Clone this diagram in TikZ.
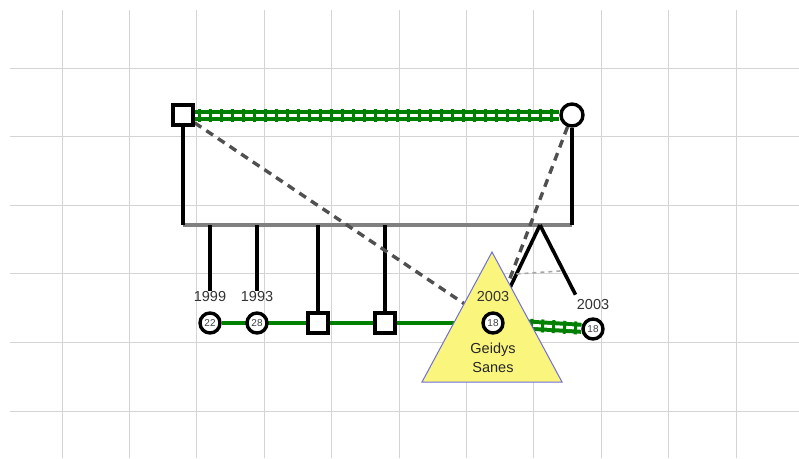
\documentclass[tikz,border=0pt]{standalone}
\usepackage{fontspec}
\setmainfont{Liberation Sans}
\usetikzlibrary{calc,backgrounds,decorations.markings}
\definecolor{pedgreen}{RGB}{0,128,0}
\definecolor{gridgray}{RGB}{212,212,212}
\definecolor{dashgray}{RGB}{80,80,80}
\definecolor{triyellow}{RGB}{250,245,125}
\definecolor{triblue}{RGB}{110,110,220}

\begin{document}
\begin{tikzpicture}[x=1pt,y=-1pt,
  male/.style={draw,line width=3.4pt,fill=white,minimum size=20pt,inner sep=0pt},
  female/.style={circle,draw,line width=3.4pt,fill=white,minimum size=20pt,inner sep=0pt,font=\fontsize{10}{10}\selectfont,text=black!75},
  year/.style={font=\fontsize{14.5}{14.5}\selectfont,text=black!80,inner sep=1pt},
  gridline/.style={gridgray,line width=1pt},
  line/.style={line width=3.6pt},
  sib/.style={gray,line width=4pt},
  rel/.style={pedgreen,line width=3.6pt},
  hatch/.style={pedgreen,line width=4pt,double=white,double distance=3pt},
  ticks/.style={decorate,decoration={markings,mark=between positions 5pt and -5pt step 11pt with {\draw[pedgreen,line width=3pt] (0,-6.5pt) -- (0,6.5pt);}}},
  link/.style={dashgray,line width=3.4pt,dash pattern=on 8pt off 6pt},
  twinbar/.style={black!35,line width=1.6pt,dash pattern=on 4pt off 4pt}]
\useasboundingbox (0,0) rectangle (799,458);

\node[male] (father) at (183,115) {};
\node[female,minimum size=22pt] (mother) at (572,115) {};
\coordinate (sibL) at (183,225);
\coordinate (sibR) at (572,225);
\coordinate (twinapex) at (540,225);

\node[year] (y1999) at (210,297) {1999};
\node[year] (y1993) at (257,297) {1993};
\node[female] (d22) at (210,323) {22};
\node[female] (d28) at (257,323) {28};
\node[male] (s1) at (318,323) {};
\node[male] (s2) at (385,323) {};

\filldraw[fill=triyellow,draw=triblue,line width=1pt] (492,252) -- (562,382) -- (422,382) -- cycle;
\node[year] (y2003a) at (493,297) {2003};
\node[female] (geidys) at (493,323) {18};
\node[font=\fontsize{14.5}{19}\selectfont,text=black!85,align=center] (name) at (493,358) {Geidys\\Sanes};
\node[year] (y2003b) at (593,305) {2003};
\node[female] (twin) at (593,329) {18};

\begin{scope}[on background layer]
\foreach \gx in {0,...,10}
  \draw[gridline] ({62+67.4*\gx},10) -- ({62+67.4*\gx},458);
\foreach \gy in {0,...,5}
  \draw[gridline] (10,{68+68.6*\gy}) -- (799,{68+68.6*\gy});
\draw[sib] (sibL) -- (sibR);
\draw[line] (father) -- (sibL);
\draw[line] (mother) -- (sibR);
\draw[line] (y1999.north |- sibL) -- (y1999.north);
\draw[line] (y1993.north |- sibL) -- (y1993.north);
\draw[line] (s1 |- sibL) -- (s1);
\draw[line] (s2 |- sibL) -- (s2);
\draw[line] (twinapex) -- (geidys);
\draw[line] (twinapex) -- ($(twinapex)!0.67!(twin)$);
\draw[twinbar] ($(twinapex)!0.5!(geidys)$) -- ($(twinapex)!0.44!(twin)$);
\draw[rel] (d22) -- (geidys);
\draw[hatch] (father) -- (mother);
\path[ticks] (father) -- (mother);
\draw[hatch] (geidys) -- (twin);
\path[ticks] (geidys) -- (twin);
\draw[link] (father) -- (geidys);
\draw[link] (mother) -- (geidys);
\end{scope}
\end{tikzpicture}
\end{document}
